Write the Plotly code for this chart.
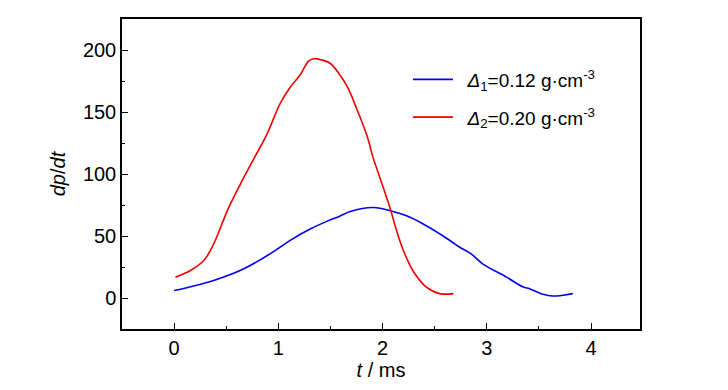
import plotly.graph_objects as go

t1 = [0.0, 0.38, 0.67, 0.92, 1.11, 1.305, 1.465, 1.59, 1.69, 1.91, 2.10, 2.23, 2.39, 2.64, 2.74, 2.85, 2.96, 3.19, 3.35, 3.41, 3.54, 3.63, 3.73, 3.825]
y1 = [6.0, 14.2, 23.6, 35.6, 46.3, 55.6, 61.8, 66.0, 69.8, 73.0, 69.8, 66.3, 59.7, 46.8, 40.9, 35.6, 27.6, 16.8, 8.8, 7.5, 3.0, 1.6, 2.2, 3.5]

t2 = [0.013, 0.157, 0.285, 0.38, 0.51, 0.635, 0.763, 0.89, 1.018, 1.114, 1.21, 1.29, 1.337, 1.417, 1.497, 1.59, 1.67, 1.75, 1.85, 1.91, 2.007, 2.07, 2.135, 2.20, 2.29, 2.42, 2.55, 2.68]
y2 = [16.8, 22.2, 30.2, 43.6, 70.3, 91.7, 112.0, 132.0, 157.0, 170.0, 180.0, 191.0, 193.0, 192.0, 189.3, 180.0, 169.0, 153.0, 131.0, 113.0, 89.0, 73.0, 54.3, 38.3, 22.2, 8.8, 3.5, 3.5]

name1 = "\u2002<i>Δ</i><sub>1</sub>=0.12 g·cm<sup>-3</sup>"
name2 = "\u2002<i>Δ</i><sub>2</sub>=0.20 g·cm<sup>-3</sup>"

FONT = "Liberation Sans, Arial, sans-serif"

fig = go.Figure()
fig.add_trace(go.Scatter(x=t1, y=y1, mode="lines", name=name1, legendgroup="a",
                         line=dict(color="#0000ee", width=1.6, shape="spline", smoothing=1.0)))
fig.add_trace(go.Scatter(x=t2, y=y2, mode="lines", name=name2, legendgroup="b",
                         line=dict(color="#ee0000", width=1.6, shape="spline", smoothing=1.0)))

axis_common = dict(showline=True, linecolor="black", linewidth=1.5, mirror=True,
                   ticks="inside", ticklen=6, tickwidth=1, tickcolor="black",
                   showgrid=False, zeroline=False,
                   tickfont=dict(family=FONT, size=20, color="black"))

fig.update_xaxes(range=[-0.5, 4.47], tickvals=[0, 1, 2, 3, 4],
                 minor=dict(ticks="inside", ticklen=3, tickvals=[0.5, 1.5, 2.5, 3.5], tickcolor="black"),
                 title=dict(text="<i>t</i> / ms", font=dict(family=FONT, size=20, color="black"), standoff=0),
                 **axis_common)
fig.update_yaxes(range=[-25, 225], tickvals=[0, 50, 100, 150, 200],
                 minor=dict(ticks="inside", ticklen=3, tickvals=[25, 75, 125, 175], tickcolor="black"),
                 title=dict(text="<i>dp</i>/<i>dt</i>", font=dict(family=FONT, size=20, color="black"), standoff=12),
                 **axis_common)

fig.update_layout(width=720, height=382,
                  margin=dict(l=114, r=88, t=9, b=61),
                  plot_bgcolor="white", paper_bgcolor="white",
                  font=dict(family=FONT, color="black"),
                  legend=dict(x=0.552, y=0.866, xanchor="left", yanchor="top",
                              bgcolor="rgba(0,0,0,0)",
                              font=dict(family=FONT, size=19, color="black"),
                              tracegroupgap=10, itemwidth=40))

fig.write_html("out.html")
